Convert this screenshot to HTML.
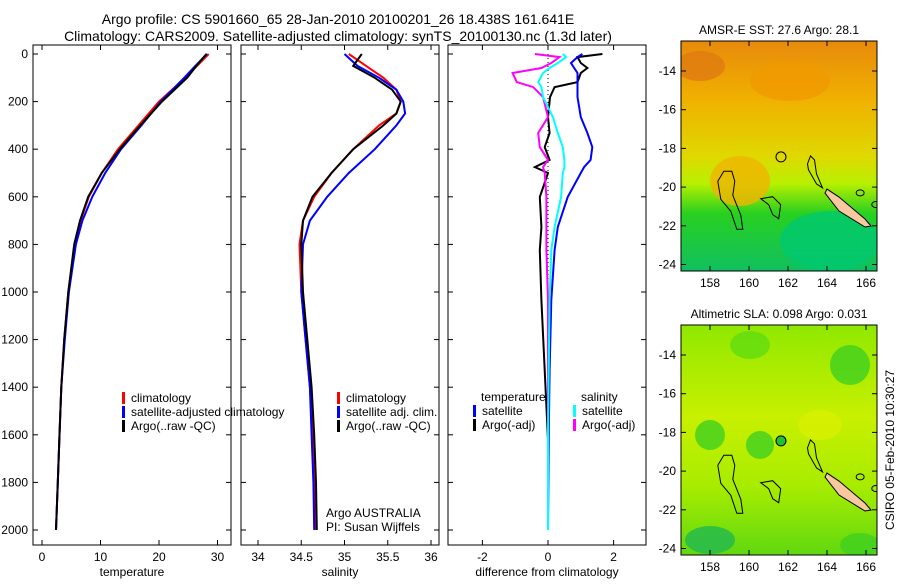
<!DOCTYPE html>
<html><head><meta charset="utf-8">
<style>
body{margin:0;background:#fff;width:900px;height:580px;overflow:hidden;font-family:"Liberation Sans",sans-serif;}
svg text{font-family:"Liberation Sans",sans-serif;font-size:12px;fill:#000;}
</style></head>
<body>
<svg id="chart" width="900" height="580" xmlns="http://www.w3.org/2000/svg">
<defs>
<linearGradient id="sstGrad" x1="0" y1="0" x2="0" y2="1">
<stop offset="0" stop-color="#e88a0c"/><stop offset="0.25" stop-color="#f0b000"/>
<stop offset="0.5" stop-color="#e0d800"/><stop offset="0.62" stop-color="#b8f000"/>
<stop offset="0.75" stop-color="#28d020"/><stop offset="1" stop-color="#10c060"/>
</linearGradient>
<linearGradient id="slaGrad" x1="0" y1="0" x2="0" y2="1">
<stop offset="0" stop-color="#90e800"/><stop offset="0.4" stop-color="#c8f000"/>
<stop offset="0.7" stop-color="#a8ec00"/><stop offset="1" stop-color="#60d810"/>
</linearGradient>
<clipPath id="c1"><rect x="681" y="41" width="196" height="230"/></clipPath>
<clipPath id="c2"><rect x="681" y="325" width="196" height="230"/></clipPath>
</defs>
<text x="338" y="24" text-anchor="middle" style="font-size:14px">Argo profile: CS 5901660_65 28-Jan-2010 20100201_26 18.438S 161.641E</text>
<text x="338" y="41" text-anchor="middle" style="font-size:14px">Climatology: CARS2009. Satellite-adjusted climatology: synTS_20100130.nc (1.3d later)</text>
<g id="g1"></g><g id="g2"></g><g id="g3"></g><g id="maps"></g>
<text transform="translate(894,450) rotate(-90)" text-anchor="middle">CSIRO 05-Feb-2010 10:30:27</text>
</svg>
<script>
const depthsT=[0,50,100,200,300,400,500,600,700,800,1000,1200,1400,1600,1800,2000];
const tempClim=[28.5,26.5,24.5,20,16.5,13,10.2,8,6.6,5.6,4.5,3.8,3.3,3.0,2.7,2.4];
const tempSat=[28.2,26.2,24.3,20.3,17,13.5,10.8,8.6,6.9,5.8,4.6,3.9,3.3,3.0,2.7,2.4];
const tempArgo=[28.1,26.4,24.8,20.5,16.8,13.3,10.2,7.9,6.5,5.5,4.5,3.8,3.3,3.0,2.7,2.4];
const depthsS=[0,50,100,150,200,250,300,400,500,600,700,800,1000,1200,1400,1600,1800,2000];
const salClim=[35.05,35.25,35.45,35.6,35.65,35.6,35.4,35.1,34.85,34.65,34.52,34.48,34.5,34.55,34.6,34.63,34.65,34.66];
const salSat=[35.0,35.15,35.4,35.6,35.68,35.7,35.6,35.35,35.05,34.8,34.6,34.52,34.5,34.55,34.6,34.62,34.64,34.65];
const salArgo=[35.2,35.1,35.35,35.55,35.65,35.6,35.45,35.1,34.85,34.63,34.52,34.5,34.52,34.57,34.62,34.65,34.67,34.68];
const depthsD=[0,13,38,59,80,118,139,181,265,332,391,445,475,500,601,727,824,1034,1328,1622,2000];
const diffTArgo=[1.66,0.9,1.0,1.2,1.0,0.9,0.2,0.06,0,0.05,-0.1,0.05,-0.4,0,-0.25,-0.2,-0.25,-0.2,-0.1,0,0];
const diffTSat=[1.05,0.9,0.7,0.8,0.9,0.9,0.9,0.9,1.0,1.2,1.35,1.3,1.1,1.0,0.6,0.3,0.2,0.1,0.05,0.02,0];
const diffSSat=[0.45,0.55,0.3,0.05,-0.15,-0.3,-0.2,-0.15,0.15,0.3,0.45,0.5,0.5,0.45,0.4,0.2,0.1,0.05,0.02,0,0];
const diffSArgo=[-0.4,0.35,0.1,-0.2,-1.08,-0.95,-0.45,-0.15,0,-0.3,-0.25,0,-0.15,-0.1,-0.05,-0.05,-0.05,0,0,0,0];
const depthTicks=[0,200,400,600,800,1000,1200,1400,1600,1800,2000];
const tempTicks=[0,10,20,30];
const salTicks=[34,34.5,35,35.5,36];
const diffTicks=[-2,0,2];
const lonTicks=[158,160,162,164,166];
const latTicks=[-14,-16,-18,-20,-22,-24];

const NS='http://www.w3.org/2000/svg';
function mk(tag,attrs,parent){const e=document.createElementNS(NS,tag);for(const k in attrs)e.setAttribute(k,attrs[k]);parent.appendChild(e);return e;}
const yD=d=>54+d*0.238;
const TOP=45,BOT=545;
function panel(g,x0,x1,xf,ticks,title,name){
  const b=mk('rect',{x:x0,y:TOP,width:x1-x0,height:BOT-TOP,fill:'none',stroke:'#000','stroke-width':1},g);
  
  
  ticks.forEach(v=>{const x=xf(v);
    mk('line',{x1:x,x2:x,y1:BOT,y2:BOT-5,stroke:'#000'},g);mk('line',{x1:x,x2:x,y1:TOP,y2:TOP+5,stroke:'#000'},g);
    const t=mk('text',{x:x,y:BOT+16,'text-anchor':'middle'},g);t.textContent=v;
    
    });
  depthTicks.forEach(d=>{const y=yD(d);mk('line',{x1:x0,x2:x0+5,y1:y,y2:y,stroke:'#000'},g);mk('line',{x1:x1,x2:x1-5,y1:y,y2:y,stroke:'#000'},g);});
  const t=mk('text',{x:(x0+x1)/2,y:BOT+31,'text-anchor':'middle'},g);t.textContent=title;
  
  
}
function line(g,xs,ds,xf,col,name,w){
  const p=xs.map((v,i)=>xf(v).toFixed(1)+','+yD(ds[i]).toFixed(1)).join(' ');
  const e=mk('polyline',{points:p,fill:'none',stroke:col,'stroke-width':w||2},g);
  
  
}
function legend(g,x,y,col,label,name){
  mk('rect',{x:x,y:y-10,width:3,height:12,fill:col},g);
  const t=mk('text',{x:x+9,y:y},g);t.textContent=label;
  
  
}
// panel 1
const g1=document.getElementById('g1');
const xT=v=>42+v*5.85;
panel(g1,33,231,xT,tempTicks,'temperature','temperature-panel');
depthTicks.forEach(d=>{const t=mk('text',{x:28,y:yD(d)+4,'text-anchor':'end'},g1);t.textContent=d;
  
  });
line(g1,tempClim,depthsT,xT,'#f00','temp-climatology-line');
line(g1,tempSat,depthsT,xT,'#00f','temp-satellite-line');
line(g1,tempArgo,depthsT,xT,'#000','temp-argo-line');
legend(g1,122,402,'#f00','climatology','legend-climatology');
legend(g1,122,416,'#00f','satellite-adjusted climatology','legend-satellite');
legend(g1,122,430,'#000','Argo(..raw -QC)','legend-argo');
// panel 2
const g2=document.getElementById('g2');
const xS=v=>258+(v-34)*86.5;
panel(g2,241,439,xS,salTicks,'salinity','salinity-panel');
line(g2,salClim,depthsS,xS,'#f00','sal-climatology-line');
line(g2,salSat,depthsS,xS,'#00f','sal-satellite-line');
line(g2,salArgo,depthsS,xS,'#000','sal-argo-line');
legend(g2,337,402,'#f00','climatology','legend-sal-climatology');
legend(g2,337,416,'#00f','satellite adj. clim.','legend-sal-satellite');
legend(g2,337,430,'#000','Argo(..raw -QC)','legend-sal-argo');
let t=mk('text',{x:326,y:517},g2);t.textContent='Argo AUSTRALIA';


t=mk('text',{x:326,y:531},g2);t.textContent='PI: Susan Wijffels';


// panel 3
const g3=document.getElementById('g3');
const xDf=v=>548+v*32.8;
panel(g3,448,646,xDf,diffTicks,'difference from climatology','difference-panel');
mk('line',{x1:548,x2:548,y1:yD(0),y2:yD(2000),stroke:'#000','stroke-dasharray':'1,3'},g3);
line(g3,diffTArgo,depthsD,xDf,'#000','diff-temp-argo-line');
line(g3,diffTSat,depthsD,xDf,'#00f','diff-temp-satellite-line');
line(g3,diffSArgo,depthsD,xDf,'#f0f','diff-sal-argo-line');
line(g3,diffSSat,depthsD,xDf,'#0ff','diff-sal-satellite-line');
t=mk('text',{x:481,y:401},g3);t.textContent='temperature';


t=mk('text',{x:581,y:401},g3);t.textContent='salinity';


legend(g3,473,415,'#00f','satellite','legend-diff-temp-satellite');
legend(g3,473,429,'#000','Argo(-adj)','legend-diff-temp-argo');
legend(g3,573,415,'#0ff','satellite','legend-diff-sal-satellite');
legend(g3,573,429,'#f0f','Argo(-adj)','legend-diff-sal-argo');
// maps
const gm=document.getElementById('maps');
function map(y0,grad,clip,title,name,blobs,circFill){
  const lonX=l=>710+(l-158)*19.5;
  const latY=la=>y0+30+(-14-la)*19.35;
  const g=mk('g',{'clip-path':'url(#'+clip+')'},gm);
  const bg=mk('rect',{x:681,y:y0,width:196,height:230,fill:'url(#'+grad+')'},g);
  
  
  blobs.forEach(b=>mk('ellipse',{cx:b[0],cy:y0+b[1],rx:b[2],ry:b[3],fill:b[4],opacity:0.8},g));
  // coastlines
  mk('path',{d:`M${lonX(158.4)},${latY(-19.7)} l6,-10 l8,0 l3,10 l-2,14 l8,20 l2,14 l-6,0 l-6,-18 l-10,-12 z`,fill:'none',stroke:'#000','stroke-width':1},g);
  mk('path',{d:`M${lonX(160.6)},${latY(-20.6)} l12,-2 l8,8 l-2,14 l-6,-4 l-4,-10 z`,fill:'none',stroke:'#000','stroke-width':1},g);
  mk('path',{d:`M${lonX(163)},${latY(-18.8)} l3,-8 l4,4 l2,14 l6,14 l-6,-4 l-8,-14 z`,fill:'none',stroke:'#000','stroke-width':1},g);
  mk('path',{d:`M${lonX(164)},${latY(-20.1)} l12,8 l26,22 l6,7 l-6,1 l-26,-16 l-14,-18 z`,fill:'#f8c8a0',stroke:'#000','stroke-width':1},g);
  mk('path',{d:`M${lonX(166.7)},${latY(-15.5)} l5,-4 l3,6 l0,8 l-5,2 z`,fill:'#f8c8a0',stroke:'#000','stroke-width':1},g);
  mk('ellipse',{cx:lonX(165.7),cy:latY(-20.3),rx:4,ry:3,fill:'none',stroke:'#000'},g);
  mk('ellipse',{cx:lonX(166.5),cy:latY(-20.9),rx:4,ry:3,fill:'none',stroke:'#000'},g);
  const c=mk('circle',{cx:lonX(161.64),cy:latY(-18.44),r:5,fill:circFill,stroke:'#000'},gm);
  
  
  const fr=mk('rect',{x:681,y:y0,width:196,height:230,fill:'none',stroke:'#000'},gm);
  
  
  lonTicks.forEach(l=>{const x=lonX(l);mk('line',{x1:x,x2:x,y1:y0+230,y2:y0+225,stroke:'#000'},gm);mk('line',{x1:x,x2:x,y1:y0,y2:y0+5,stroke:'#000'},gm);
    const tt=mk('text',{x:x,y:y0+246,'text-anchor':'middle'},gm);tt.textContent=l;
    
    });
  latTicks.forEach(la=>{const y=latY(la);mk('line',{x1:681,x2:686,y1:y,y2:y,stroke:'#000'},gm);mk('line',{x1:877,x2:872,y1:y,y2:y,stroke:'#000'},gm);
    const tt=mk('text',{x:676,y:y+4,'text-anchor':'end'},gm);tt.textContent=la;
    
    });
  const tt=mk('text',{x:779,y:y0-7,'text-anchor':'middle'},gm);tt.textContent=title;
  
  
}
map(41,'sstGrad','c1','AMSR-E SST: 27.6 Argo: 28.1','sst-map',
 [[700,25,25,15,'#e07a10'],[790,40,40,20,'#f09a00'],[740,140,30,25,'#f0b400'],[830,200,50,30,'#00c870']],'none');
map(325,'slaGrad','c2','Altimetric SLA: 0.098 Argo: 0.031','sla-map',
 [[750,20,20,14,'#60dc10'],[850,40,20,20,'#40d020'],[710,110,15,15,'#40d020'],[760,120,14,14,'#40d020'],[710,215,25,14,'#20b850'],[860,220,20,12,'#40d020'],[820,100,22,15,'#d8f000']],'#20c030');
</script>
</body></html>
